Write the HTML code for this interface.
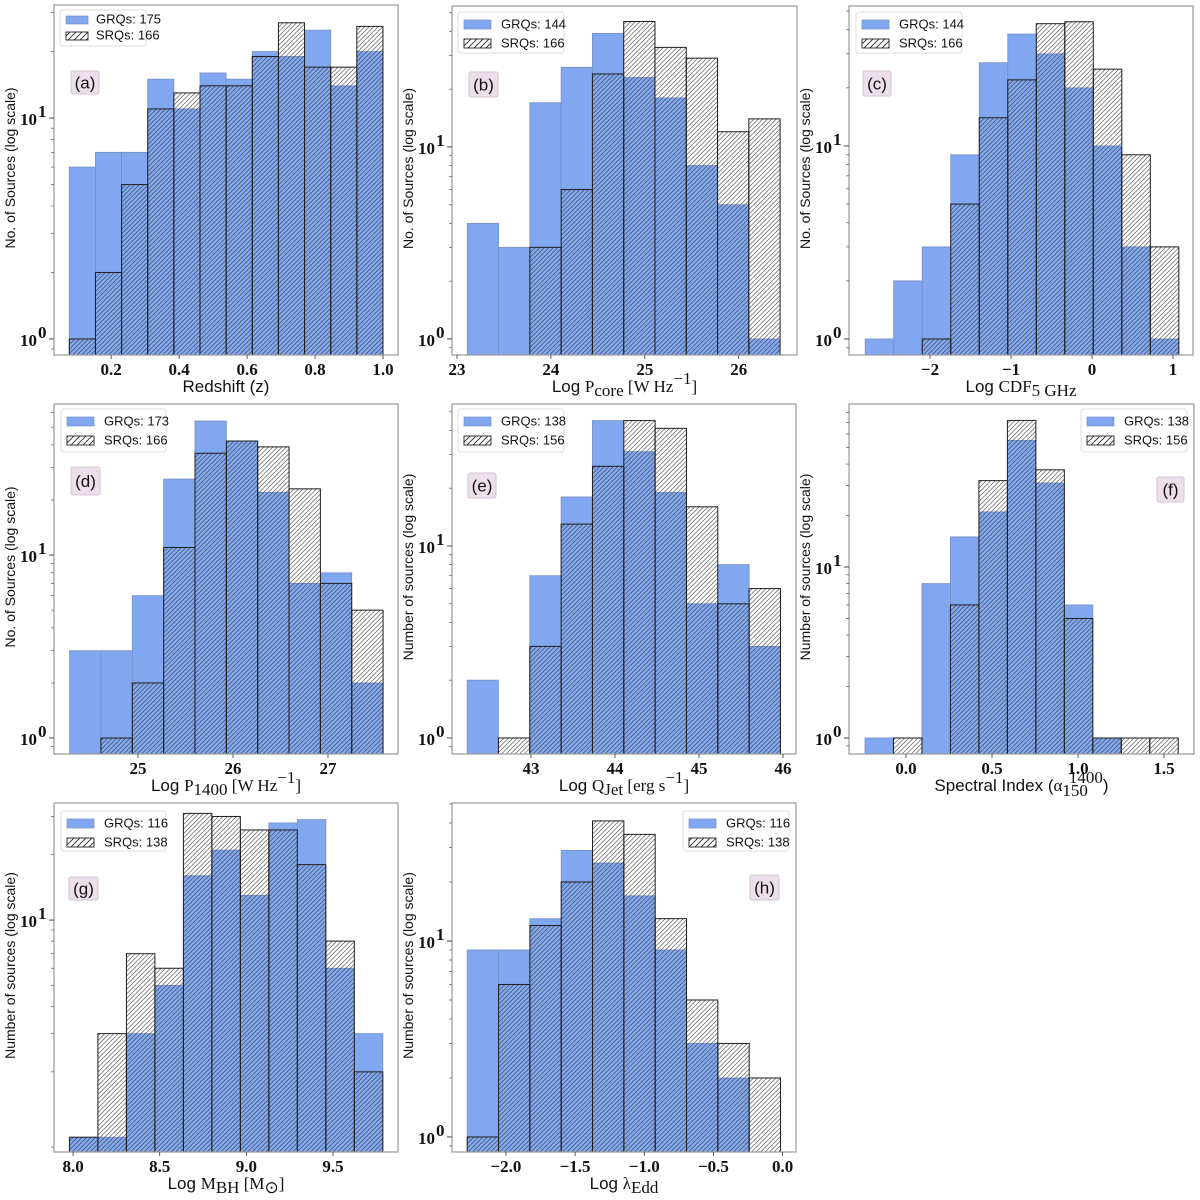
<!DOCTYPE html>
<html><head><meta charset="utf-8"><style>
html,body{margin:0;padding:0;background:#fff;}
svg{display:block;}
.tl{font-family:"Liberation Serif",serif;font-weight:bold;font-size:17px;fill:#111;}
.al{font-family:"Liberation Sans",sans-serif;font-size:15px;fill:#111;}
.yl{font-family:"Liberation Sans",sans-serif;font-size:14px;fill:#111;}
.lg{font-family:"Liberation Sans",sans-serif;font-size:13px;fill:#111;}
.pl{font-family:"Liberation Sans",sans-serif;font-size:17px;fill:#111;}
.m{font-family:"Liberation Serif",serif;font-size:17px;}
</style></head><body>
<svg id="fig" width="1200" height="1200" viewBox="0 0 1200 1200" xmlns="http://www.w3.org/2000/svg">
<defs>
<pattern id="hatch" patternUnits="userSpaceOnUse" width="4.5" height="4.5">
<path d="M-1,1 L1,-1 M0,4.5 L4.5,0 M3.5,5.5 L5.5,3.5" stroke="#3a3a3a" stroke-width="0.6"/>
</pattern>
<pattern id="hatchL" patternUnits="userSpaceOnUse" width="6" height="6">
<path d="M-1,1 L1,-1 M0,6 L6,0 M5,7 L7,5" stroke="#2a2a2a" stroke-width="0.9"/>
</pattern>
</defs>
</svg>
<script>
// ---- data (bin start, bin width, counts) ----
const aBins=[0.077,0.0769];
const aGRQ=[6,7,7,15,11,16,15,20,19,25,14,20];
const aSRQ=[1,2,5,11,13,14,14,19,27,17,17,26];
const aXTicks=[0.2,0.4,0.6,0.8,1.0];
const aCounts=[175,166];

const bBins=[23.11,0.333];
const bGRQ=[4,3,17,26,39,23,18,8,5,1];
const bSRQ=[0,0,3,6,24,45,33,29,12,14];
const bXTicks=[23,24,25,26];
const bCounts=[144,166];

const cBins=[-2.80,0.352];
const cGRQ=[1,2,3,9,27,38,30,20,10,3,1];
const cSRQ=[0,0,1,5,14,22,43,44,25,9,3];
const cXTicks=[-2,-1,0,1];
const cCounts=[144,166];

const dBins=[24.28,0.33];
const dGRQ=[3,3,6,26,54,42,22,7,8,2];
const dSRQ=[0,1,2,11,36,42,39,23,7,5];
const dXTicks=[25,26,27];
const dCounts=[173,166];

const eBins=[42.24,0.373];
const eGRQ=[2,0,7,18,45,31,19,5,8,3];
const eSRQ=[0,1,3,13,26,45,41,16,5,6];
const eXTicks=[43,44,45,46];
const eCounts=[138,156];

const fBins=[-0.238,0.1655];
const fGRQ=[1,0,8,15,21,55,31,6,1,0,0];
const fSRQ=[0,1,0,6,32,72,37,5,1,1,1];
const fXTicks=[0.0,0.5,1.0,1.5];
const fCounts=[138,156];

const gBins=[7.979,0.1644];
const gGRQ=[1,1,3,5,16,21,13,28,29,6,3];
const gSRQ=[1,3,7,6,31,30,26,26,18,8,2];
const gXTicks=[8.0,8.5,9.0,9.5];
const gCounts=[116,138];

const hBins=[-2.28,0.2265];
const hGRQ=[9,9,13,29,25,17,9,3,2,0];
const hSRQ=[1,6,12,20,41,35,13,5,3,2];
const hXTicks=[-2.0,-1.5,-1.0,-0.5,0.0];
const hCounts=[116,138];

// ---- layout ----
const NS="http://www.w3.org/2000/svg";
const svg=document.getElementById('fig');
function mk(tag,attrs,parent){const e=document.createElementNS(NS,tag);for(const k in attrs)e.setAttribute(k,attrs[k]);(parent||svg).appendChild(e);return e;}

const panels=[
 {id:'a',bins:aBins,g:aGRQ,s:aSRQ,xt:aXTicks,cnt:aCounts,dec:1,box:[54,398,5,355],xd:[0.032,1.044],yd:[0.846,32.5],yt:[1,10],
  leg:[60,10,86,36,'small'],lab:[71,71,28,23],ylab:'No. of Sources (log scale)',xlab:[['s','Redshift (z)']]},
 {id:'b',bins:bBins,g:bGRQ,s:bSRQ,xt:bXTicks,cnt:bCounts,dec:0,box:[452,797,6,355],xd:[22.947,26.62],yd:[0.825,54.2],yt:[1,10],
  leg:[458,12,106,41],lab:[469,72,29,25],ylab:'No. of Sources (log scale)',xlab:[['s','Log '],['m','P'],['sub','core'],['m',' [W Hz'],['sup','−1'],['m',']']]},
 {id:'c',bins:cBins,g:cGRQ,s:cSRQ,xt:cXTicks,cnt:cCounts,dec:0,box:[849,1193,6,355],xd:[-3.0,1.247],yd:[0.826,53.1],yt:[1,10],
  leg:[856,12,106,41],lab:[863,71,28,25],ylab:'No. of Sources (log scale)',xlab:[['s','Log '],['m','CDF'],['sub','5 GHz']]},
 {id:'d',bins:dBins,g:dGRQ,s:dSRQ,xt:dXTicks,cnt:dCounts,dec:0,box:[54,398,404,754],xd:[24.116,27.737],yd:[0.818,66.9],yt:[1,10],
  leg:[61,409,105,43],lab:[71,467,29,28],ylab:'No. of Sources (log scale)',xlab:[['s','Log '],['m','P'],['sub','1400'],['m',' [W Hz'],['sup','−1'],['m',']']]},
 {id:'e',bins:eBins,g:eGRQ,s:eSRQ,xt:eXTicks,cnt:eCounts,dec:0,box:[452,796,404,754],xd:[42.06,46.155],yd:[0.825,54.9],yt:[1,10],
  leg:[458,409,106,43],lab:[468,473,28,25],ylab:'Number of sources (log scale)',xlab:[['s','Log '],['m','Q'],['sub','Jet'],['m',' [erg s'],['sup','−1'],['m',']']]},
 {id:'f',bins:fBins,g:fGRQ,s:fSRQ,xt:fXTicks,cnt:fCounts,dec:1,box:[849,1194,404,754],xd:[-0.331,1.674],yd:[0.806,89.8],yt:[1,10],
  leg:[1081,409,106,43],lab:[1157,477,27,25],ylab:'Number of sources (log scale)',xlab:[['s','Spectral Index ('],['m','α'],['subsup','150','1400'],['s',')']]},
 {id:'g',bins:gBins,g:gGRQ,s:gSRQ,xt:gXTicks,cnt:gCounts,dec:1,box:[54,398,803,1152],xd:[7.890,9.875],yd:[0.855,34.6],yt:[10],
  leg:[61,811,105,40],lab:[69,877,29,23],ylab:'Number of sources (log scale)',xlab:[['s','Log '],['m','M'],['sub','BH'],['m',' [M'],['sub','⊙'],['m',']']]},
 {id:'h',bins:hBins,g:hGRQ,s:hSRQ,xt:hXTicks,cnt:hCounts,dec:1,box:[452,796,803,1152],xd:[-2.39,0.097],yd:[0.838,50.6],yt:[1,10],
  leg:[683,811,106,40],lab:[750,875,29,25],ylab:'Number of sources (log scale)',xlab:[['s','Log '],['m','λ'],['sub','Edd']]}
];

function fmt(v,dec){let s=v.toFixed(dec);return s.replace('-','−');}

panels.forEach(p=>{
 const [x0,x1,y0,y1]=p.box;
 const X=v=>x0+(v-p.xd[0])/(p.xd[1]-p.xd[0])*(x1-x0);
 const LY0=Math.log10(p.yd[0]),LY1=Math.log10(p.yd[1]);
 const Y=v=>y1-(Math.log10(v)-LY0)/(LY1-LY0)*(y1-y0);
 const grp=mk('g',{});
 
 
 const n=p.g.length;
 for(let i=0;i<n;i++){
  if(p.g[i]<=0)continue;
  const xa=X(p.bins[0]+i*p.bins[1]),xb=X(p.bins[0]+(i+1)*p.bins[1]);
  const r=mk('rect',{x:xa,y:Y(p.g[i]),width:xb-xa,height:y1-Y(p.g[i]),fill:'#80a7ef',stroke:'#7590c8','stroke-width':0.8},grp);
  
  
 }
 for(let i=0;i<n;i++){
  if(p.s[i]<=0)continue;
  const xa=X(p.bins[0]+i*p.bins[1]),xb=X(p.bins[0]+(i+1)*p.bins[1]);
  const r=mk('rect',{x:xa,y:Y(p.s[i]),width:xb-xa,height:y1-Y(p.s[i]),fill:'url(#hatch)',stroke:'#1e1e1e','stroke-width':1},grp);
  
  
 }
 const fr=mk('rect',{x:x0,y:y0,width:x1-x0,height:y1-y0,fill:'none',stroke:'#9a9a9a','stroke-width':1.2},grp);
 
 
 p.xt.forEach(v=>{
  const x=X(v);
  mk('line',{x1:x,x2:x,y1:y1,y2:y1+4,stroke:'#333','stroke-width':0.8},grp);
  const t=mk('text',{x:x,y:y1+20,'text-anchor':'middle',class:'tl'},grp);
  t.textContent=fmt(v,p.dec);
  
  
 });
 p.yt.forEach(v=>{
  const y=Y(v);
  mk('line',{x1:x0-5,x2:x0,y1:y,y2:y,stroke:'#333','stroke-width':0.9},grp);
  const t=mk('text',{x:x0-17,y:y+7,'text-anchor':'end',class:'tl','font-size':'19px'},grp);
  t.textContent='10';
  
  
  const s=mk('text',{x:x0-16,y:y-1,'text-anchor':'start',class:'tl','font-size':'12px'},grp);
  s.textContent=String(Math.round(Math.log10(v)));
 });
 for(let d=-1;d<3;d++){for(let k=2;k<10;k++){const v=k*Math.pow(10,d);if(v>p.yd[0]&&v<p.yd[1]){const y=Y(v);mk('line',{x1:x0-3,x2:x0,y1:y,y2:y,stroke:'#555','stroke-width':0.7},grp);}}}
 const cy=(y0+y1)/2-12;
 const lx=x0-39;
 const yl=mk('text',{x:lx,y:cy,'text-anchor':'middle',class:'yl',transform:'rotate(-90 '+lx+' '+cy+')'},grp);
 yl.textContent=p.ylab;
 
 
 const xl=mk('text',{x:(x0+x1)/2,y:y1+37,'text-anchor':'middle',class:'al'},grp);
 
 
 p.xlab.forEach(part=>{
  const [k,txt]=part;
  if(k==='s'){const ts=mk('tspan',{'font-size':'17px'},xl);ts.textContent=txt;}
  else if(k==='m'){const ts=mk('tspan',{class:'m','font-size':'19px'},xl);ts.textContent=txt;}
  else if(k==='sub'){const ts=mk('tspan',{class:'m','font-size':'13px',dy:'4'},xl);ts.textContent=txt;const z=mk('tspan',{dy:'-4','font-size':'16px'},xl);z.textContent='\u200b';}
  else if(k==='sup'){const ts=mk('tspan',{class:'m','font-size':'12px',dy:'-8'},xl);ts.textContent=txt;const z=mk('tspan',{dy:'8','font-size':'16px'},xl);z.textContent='\u200b';}
  else if(k==='subsup'){const ts=mk('tspan',{class:'m','font-size':'12px',dy:'5'},xl);ts.textContent=part[1];const ts2=mk('tspan',{class:'m','font-size':'12px',dx:'-19',dy:'-13'},xl);ts2.textContent=part[2];const z=mk('tspan',{dy:'8','font-size':'17px'},xl);z.textContent='\u200b';}
 });
 const [lxp,lyp,lw,lh,sz]=p.leg;
 const lg=mk('g',{},grp);
 
 
 mk('rect',{x:lxp,y:lyp,width:lw,height:lh,rx:3,fill:'#fff','fill-opacity':0.85,stroke:'#dddddd','stroke-width':1},lg);
 const small=sz==='small';
 const pw=small?22:27,ph=small?8:9,fs=small?11:13.5;
 const r1=lyp+(small?6:8),r2=lyp+(small?22:27);
 const gp=mk('rect',{x:lxp+6,y:r1,width:pw,height:ph,fill:'#80a7ef',stroke:'#7590c8','stroke-width':0.7},lg);
 
 
 const sp=mk('rect',{x:lxp+6,y:r2,width:pw,height:ph,fill:'url(#hatchL)',stroke:'#222','stroke-width':0.9},lg);
 
 
 const t1=mk('text',{x:lxp+(small?36:43),y:r1+ph-0.5,class:'lg','font-size':fs+'px'},lg);
 t1.textContent='GRQs: '+p.cnt[0];
 
 
 const t2=mk('text',{x:lxp+(small?36:43),y:r2+ph-0.5,class:'lg','font-size':fs+'px'},lg);
 t2.textContent='SRQs: '+p.cnt[1];
 
 
 const [bx,by,bw,bh]=p.lab;
 const lb=mk('g',{},grp);
 
 
 mk('rect',{x:bx,y:by,width:bw,height:bh,rx:2,fill:'#ecdfea',stroke:'#d4c6d2','stroke-width':1},lb);
 const pt=mk('text',{x:bx+bw/2,y:by+bh/2+6,'text-anchor':'middle',class:'pl'},lb);
 pt.textContent='('+p.id+')';
});
</script>
</body></html>
